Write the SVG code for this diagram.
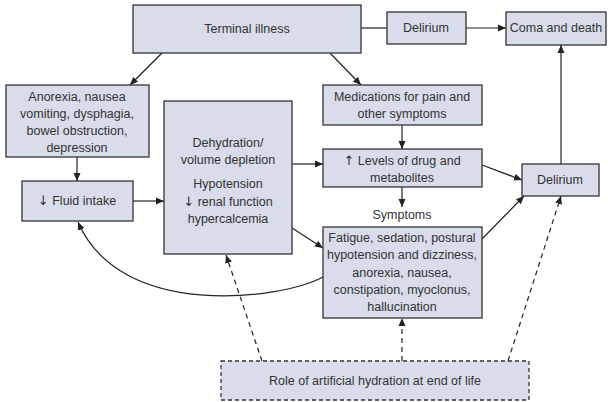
<svg xmlns="http://www.w3.org/2000/svg" width="608" height="402" viewBox="0 0 608 402">
  <defs>
    <marker id="arrow" markerUnits="userSpaceOnUse" markerWidth="9" markerHeight="8" refX="8" refY="4" orient="auto">
      <path d="M0,0.5 L8,4 L0,7.5 Z" fill="#222"/>
    </marker>
    <style>
      .box { fill: #d9dcea; stroke: #333; stroke-width: 1.3; }
      .dbox { fill: #d9dcea; stroke: #333; stroke-width: 1.3; stroke-dasharray: 4 3; }
      text { font-family: "Liberation Sans", Arial, sans-serif; font-size: 12.5px; fill: #333; text-anchor: middle; }
      .sym { font-family: "DejaVu Sans", sans-serif; font-size: 13px; }
      .ln { fill: none; stroke: #222; stroke-width: 1.2; }
      .dash { fill: none; stroke: #222; stroke-width: 1.2; stroke-dasharray: 5 4; }
    </style>
  </defs>

  <!-- connectors -->
  <g id="connectors">
    <line class="ln" x1="162" y1="53" x2="130" y2="85" marker-end="url(#arrow)"/>
    <line class="ln" x1="330" y1="53" x2="361" y2="85" marker-end="url(#arrow)"/>
    <line class="ln" x1="361" y1="28" x2="387" y2="28"/>
    <line class="ln" x1="466" y1="28" x2="506" y2="28" marker-end="url(#arrow)"/>
    <line class="ln" x1="77" y1="157" x2="77" y2="181" marker-end="url(#arrow)"/>
    <line class="ln" x1="133" y1="201" x2="164" y2="201" marker-end="url(#arrow)"/>
    <line class="ln" x1="292" y1="164" x2="323" y2="164" marker-end="url(#arrow)"/>
    <line class="ln" x1="292" y1="228" x2="323" y2="248" marker-end="url(#arrow)"/>
    <line class="ln" x1="402" y1="125" x2="402" y2="149" marker-end="url(#arrow)"/>
    <line class="ln" x1="402" y1="187" x2="402" y2="207" marker-end="url(#arrow)"/>
    <line class="ln" x1="482" y1="165" x2="522" y2="180" marker-end="url(#arrow)"/>
    <line class="ln" x1="482" y1="239" x2="524" y2="196" marker-end="url(#arrow)"/>
    <line class="ln" x1="561" y1="164" x2="561" y2="45" marker-end="url(#arrow)"/>
    <path class="ln" d="M323,277 C280,300 120,320 78,222" marker-end="url(#arrow)"/>
    <line class="dash" x1="262" y1="361" x2="226" y2="255" marker-end="url(#arrow)"/>
    <line class="dash" x1="402" y1="361" x2="402" y2="318" marker-end="url(#arrow)"/>
    <line class="dash" x1="508" y1="361" x2="561" y2="196" marker-end="url(#arrow)"/>
  </g>

  <g id="terminal-illness">
    <rect class="box" x="133" y="5" width="228" height="48"/>
    <text x="247" y="33">Terminal illness</text>
  </g>

  <g id="delirium-top">
    <rect class="box" x="387" y="12" width="79" height="32"/>
    <text x="426" y="32">Delirium</text>
  </g>

  <g id="coma-death">
    <rect class="box" x="506" y="12" width="100" height="33"/>
    <text x="556" y="32">Coma and death</text>
  </g>

  <g id="anorexia">
    <rect class="box" x="6" y="85" width="143" height="72"/>
    <text x="77" y="101">Anorexia, nausea</text>
    <text x="77" y="118">vomiting, dysphagia,</text>
    <text x="77" y="135">bowel obstruction,</text>
    <text x="77" y="152">depression</text>
  </g>

  <g id="fluid-intake">
    <rect class="box" x="22" y="181" width="111" height="40"/>
    <text x="77" y="205"><tspan class="sym">↓</tspan> Fluid intake</text>
  </g>

  <g id="dehydration">
    <rect class="box" x="164" y="101" width="128" height="153"/>
    <text x="228" y="147">Dehydration/</text>
    <text x="228" y="164">volume depletion</text>
    <text x="228" y="188">Hypotension</text>
    <text x="228" y="206"><tspan class="sym">↓</tspan> renal function</text>
    <text x="228" y="223">hypercalcemia</text>
  </g>

  <g id="medications">
    <rect class="box" x="323" y="85" width="159" height="40"/>
    <text x="402" y="101">Medications for pain and</text>
    <text x="402" y="118">other symptoms</text>
  </g>

  <g id="drug-levels">
    <rect class="box" x="323" y="149" width="159" height="38"/>
    <text x="402" y="165"><tspan class="sym">↑</tspan> Levels of drug and</text>
    <text x="402" y="182">metabolites</text>
  </g>

  <g id="delirium-right">
    <rect class="box" x="522" y="164" width="77" height="32"/>
    <text x="560" y="184">Delirium</text>
  </g>

  <g id="symptoms">
    <text x="402" y="219">Symptoms</text>
    <rect class="box" x="323" y="227" width="159" height="91"/>
    <text x="402" y="242">Fatigue, sedation, postural</text>
    <text x="402" y="259">hypotension and dizziness,</text>
    <text x="402" y="277">anorexia, nausea,</text>
    <text x="402" y="294">constipation, myoclonus,</text>
    <text x="402" y="311">hallucination</text>
  </g>

  <g id="artificial-hydration">
    <rect class="dbox" x="221" y="361" width="308" height="39"/>
    <text x="375" y="385">Role of artificial hydration at end of life</text>
  </g>
</svg>
